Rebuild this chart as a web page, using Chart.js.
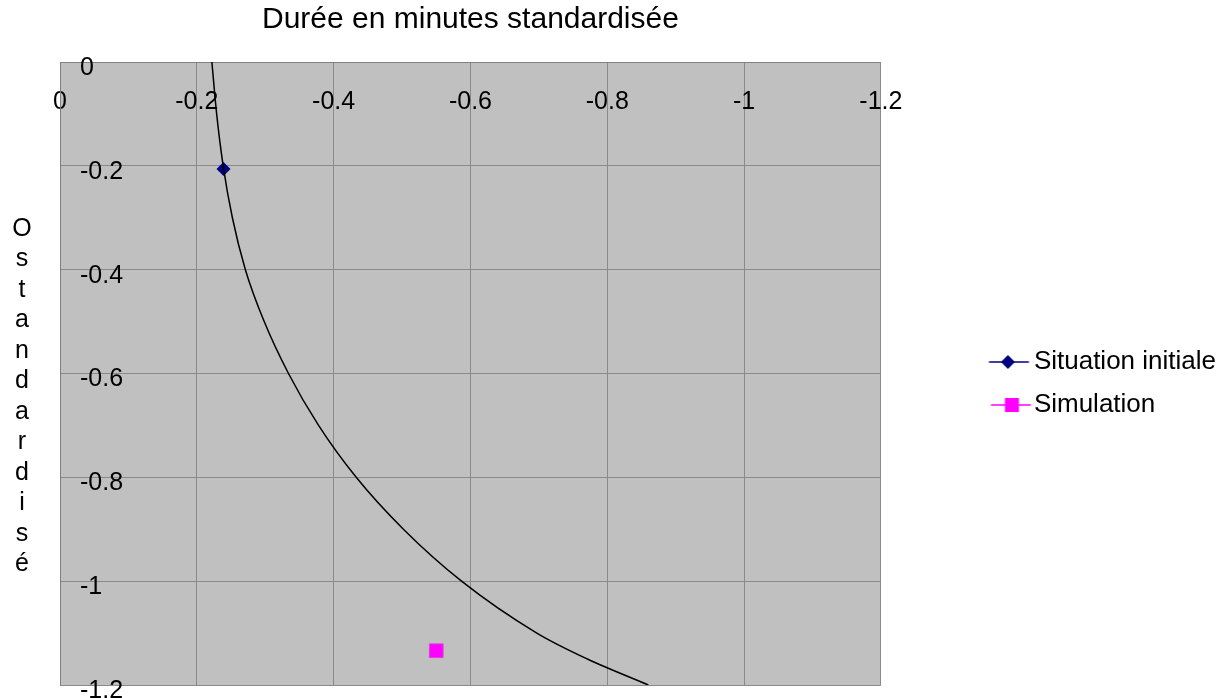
<!DOCTYPE html>
<html>
<head>
<meta charset="utf-8">
<script src="https://cdn.jsdelivr.net/npm/chart.js@4/dist/chart.umd.min.js"></script>
<style>
  html, body { margin: 0; padding: 0; background: #fff; }
  #wrap { width: 1225px; height: 698px; }
</style>
</head>
<body>
<div id="wrap"><canvas id="chart"></canvas></div>
<script>
// texts
const xTitle = 'Durée en minutes standardisée';
const yTitle = 'Ostandardisé';
const seriesNames = ['Situation initiale', 'Simulation'];

// tick values
const xTicks = [0, -0.2, -0.4, -0.6, -0.8, -1, -1.2];
const yTicks = [0, -0.2, -0.4, -0.6, -0.8, -1, -1.2];

// curve
const curveX = [-0.222, -0.229, -0.2385, -0.252, -0.271, -0.2985, -0.334, -0.378, -0.433, -0.502, -0.587, -0.697, -0.771, -0.86];
const curveY = [0, -0.1, -0.2, -0.3, -0.4, -0.5, -0.6, -0.7, -0.8, -0.9, -1.0, -1.1, -1.15, -1.2];

// the two points
const initialX = [-0.239];
const initialY = [-0.206];
const simX = [-0.55];
const simY = [-1.134];

const NAVY = '#000080';
const PINK = '#FF00FF';
const FONT = '"Liberation Sans", Arial, sans-serif';

function toPoints(xs, ys) {
  return xs.map((x, i) => ({x: x, y: ys[i]}));
}

// small picture for the legend: line with marker on it
function legendMarker(kind, color, lineFrom, lineTo, markX) {
  var c = document.createElement('canvas');
  c.width = 148;
  c.height = 24;
  var g = c.getContext('2d');
  g.strokeStyle = color;
  g.lineWidth = 1.5;
  g.beginPath();
  g.moveTo(lineFrom, 12);
  g.lineTo(lineTo, 12);
  g.stroke();
  g.fillStyle = color;
  g.beginPath();
  if (kind === 'diamond') {
    g.moveTo(markX, 5);
    g.lineTo(markX + 7, 12);
    g.lineTo(markX, 19);
    g.lineTo(markX - 7, 12);
    g.closePath();
  } else {
    g.rect(markX - 7, 5, 14, 14);
  }
  g.fill();
  return c;
}

const plotBg = {
  id: 'plotBg',
  beforeDraw(chart) {
    const a = chart.chartArea;
    const ctx = chart.ctx;
    ctx.save();
    ctx.fillStyle = '#C0C0C0';
    ctx.fillRect(a.left, a.top, a.right - a.left, a.bottom - a.top);
    ctx.restore();
  }
};

// y title is written one letter under the other
const stackedTitle = {
  id: 'stackedTitle',
  afterDraw(chart) {
    const ctx = chart.ctx;
    ctx.save();
    ctx.fillStyle = '#000';
    ctx.font = '25px ' + FONT;
    ctx.textAlign = 'center';
    ctx.textBaseline = 'middle';
    yTitle.split('').forEach((ch, i) => {
      ctx.fillText(ch, 22, 229 + i * 30.5);
    });
    ctx.restore();
  }
};

const ctx = document.getElementById('chart').getContext('2d');

new Chart(ctx, {
  type: 'scatter',
  data: {
    datasets: [
      {
        label: 'curve',
        data: toPoints(curveX, curveY),
        showLine: true,
        borderColor: '#000',
        borderWidth: 1.5,
        pointRadius: 0,
        cubicInterpolationMode: 'monotone',
        fill: false
      },
      {
        label: seriesNames[0],
        data: toPoints(initialX, initialY),
        pointStyle: 'rectRot',
        pointRadius: 7,
        backgroundColor: NAVY,
        borderColor: NAVY,
        borderWidth: 0
      },
      {
        label: seriesNames[1],
        data: toPoints(simX, simY),
        pointStyle: 'rect',
        pointRadius: 9.7,
        backgroundColor: PINK,
        borderColor: '#E040E0',
        borderWidth: 1
      }
    ]
  },
  options: {
    responsive: true,
    maintainAspectRatio: false,
    animation: false,
    devicePixelRatio: 1,
    layout: {
      padding: {left: 40, top: 2, right: -1, bottom: 13}
    },
    plugins: {
      tooltip: {enabled: false},
      legend: {
        position: 'right',
        maxWidth: 400,
        title: {
          display: true,
          text: ' ',
          font: {size: 10},
          padding: {top: 68, bottom: 0}
        },
        labels: {
          usePointStyle: true,
          pointStyleWidth: 123,
          padding: 17,
          color: '#000',
          font: {family: FONT, size: 26},
          generateLabels: function (chart) {
            return [
              {
                text: seriesNames[0],
                pointStyle: legendMarker('diamond', NAVY, 103.5, 143.5, 122.5),
                fillStyle: NAVY,
                strokeStyle: NAVY,
                lineWidth: 0,
                hidden: false,
                datasetIndex: 1,
                fontColor: '#000'
              },
              {
                text: seriesNames[1],
                pointStyle: legendMarker('square', PINK, 105.5, 145.5, 126.5),
                fillStyle: PINK,
                strokeStyle: PINK,
                lineWidth: 0,
                hidden: false,
                datasetIndex: 2,
                fontColor: '#000'
              }
            ];
          }
        }
      }
    },
    scales: {
      x: {
        type: 'linear',
        position: 'top',
        min: -1.2,
        max: 0,
        reverse: true,
        afterBuildTicks: axis => { axis.ticks = xTicks.map(v => ({value: v})); },
        afterFit: axis => {
          axis.height = 60;
          axis.paddingLeft = 0;
          axis.paddingRight = 0;
        },
        grid: {color: '#8a8a8a', drawTicks: false, lineWidth: 1},
        border: {color: '#808080'},
        ticks: {
          mirror: true,
          padding: 25,
          color: '#000',
          font: {family: FONT, size: 25},
          callback: v => String(v)
        },
        title: {
          display: true,
          text: xTitle,
          color: '#000',
          font: {family: FONT, size: 30},
          padding: {top: 0, bottom: 0}
        }
      },
      y: {
        type: 'linear',
        position: 'left',
        min: -1.2,
        max: 0,
        afterBuildTicks: axis => { axis.ticks = yTicks.map(v => ({value: v})); },
        afterFit: axis => {
          axis.width = 20;
          axis.paddingTop = 0;
          axis.paddingBottom = 0;
        },
        grid: {color: '#8a8a8a', drawTicks: false, lineWidth: 1},
        border: {color: '#808080'},
        ticks: {
          mirror: true,
          padding: 20,
          labelOffset: 6,
          color: '#000',
          font: {family: FONT, size: 25},
          callback: v => String(v)
        }
      }
    }
  },
  plugins: [plotBg, stackedTitle]
});
</script>
</body>
</html>
